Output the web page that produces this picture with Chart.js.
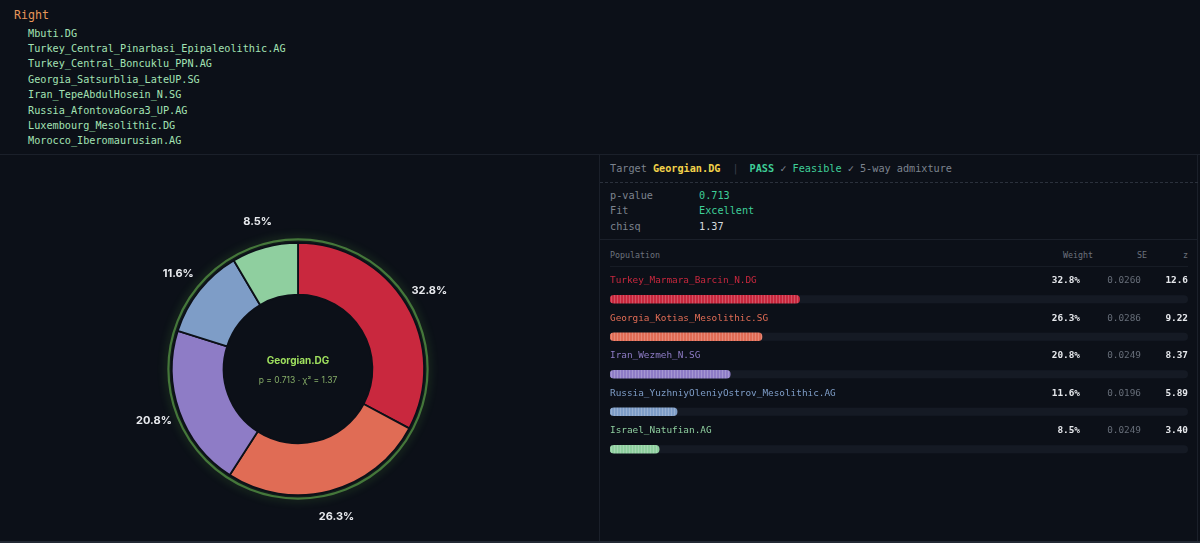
<!DOCTYPE html>
<html>
<head>
<meta charset="utf-8">
<script src="https://cdn.jsdelivr.net/npm/chart.js@4.4.1/dist/chart.umd.min.js"></script>
<style>
  body { margin: 0; background: #0c1018; width: 1200px; height: 543px; overflow: hidden; position: relative;
         font-family: "DejaVu Sans Mono", monospace; }
  .abs { position: absolute; white-space: pre; }
  .line { position: absolute; background: #1b202a; }
  #right-title { left: 14px; top: 7px; font-size: 11.6px; line-height: 16px; color: #e8965a; }
  #right-list { left: 28px; top: 25.5px; font-size: 10.2px; line-height: 15.4px; color: #a3e2b4; }
  .hdr { font-size: 10.2px; line-height: 14px; }
  .muted { color: #7c838e; }
</style>
</head>
<body>
<div id="right-title" class="abs">Right</div>
<div id="right-list" class="abs"></div>

<div class="line" style="left:0;top:154px;width:1200px;height:1px;"></div>
<div class="line" style="left:599px;top:155px;width:1px;height:388px;"></div>
<div class="line" style="left:1197px;top:155px;width:1px;height:388px;"></div>
<div class="line" style="left:0;top:541px;width:1200px;height:2px;background:#222833;"></div>

<div class="abs hdr" style="left:610px;top:162px;"><span class="muted">Target </span><span style="color:#f2d24a;font-weight:bold;">Georgian.DG</span><span style="color:#3a404b;margin:0 11px 0 12px;">|</span><span style="color:#3fcf98;font-weight:bold;">PASS</span><span class="muted"> ✓ </span><span style="color:#3fcf98;">Feasible</span><span class="muted"> ✓ 5-way admixture</span></div>
<div class="abs" style="left:600px;top:182px;width:598px;height:0;border-top:1px dashed #2b313c;"></div>

<div class="abs hdr muted" style="left:610px;top:188.5px;">p-value</div>
<div class="abs hdr" style="left:699px;top:188.5px;color:#3fcf98;">0.713</div>
<div class="abs hdr muted" style="left:610px;top:204px;">Fit</div>
<div class="abs hdr" style="left:699px;top:204px;color:#3fcf98;">Excellent</div>
<div class="abs hdr muted" style="left:610px;top:219.5px;">chisq</div>
<div class="abs hdr" style="left:699px;top:219.5px;color:#d5d9de;">1.37</div>
<div class="line" style="left:600px;top:239px;width:598px;height:1px;"></div>

<div class="abs" style="left:610px;top:249px;font-size:8.3px;line-height:12px;color:#6c737d;">Population</div>
<div class="abs" style="left:1000px;top:249px;width:93px;text-align:right;font-size:8.3px;line-height:12px;color:#6c737d;">Weight</div>
<div class="abs" style="left:1100px;top:249px;width:47px;text-align:right;font-size:8.3px;line-height:12px;color:#6c737d;">SE</div>
<div class="abs" style="left:1150px;top:249px;width:38px;text-align:right;font-size:8.3px;line-height:12px;color:#6c737d;">z</div>
<div class="line" style="left:610px;top:266px;width:578px;height:1px;background:#171c25;"></div>

<canvas id="donut" width="600" height="386" style="position:absolute;left:0;top:155px;"></canvas>
<canvas id="bars" width="598" height="204" style="position:absolute;left:600px;top:268px;"></canvas>

<script>
const rightPops = ['Mbuti.DG', 'Turkey_Central_Pinarbasi_Epipaleolithic.AG', 'Turkey_Central_Boncuklu_PPN.AG',
  'Georgia_Satsurblia_LateUP.SG', 'Iran_TepeAbdulHosein_N.SG', 'Russia_AfontovaGora3_UP.AG',
  'Luxembourg_Mesolithic.DG', 'Morocco_Iberomaurusian.AG'];
const populations = ['Turkey_Marmara_Barcin_N.DG', 'Georgia_Kotias_Mesolithic.SG', 'Iran_Wezmeh_N.SG',
  'Russia_YuzhniyOleniyOstrov_Mesolithic.AG', 'Israel_Natufian.AG'];
const weights = [32.8, 26.3, 20.8, 11.6, 8.5];
const stdErrs = ['0.0260', '0.0286', '0.0249', '0.0196', '0.0249'];
const zScores = ['12.6', '9.22', '8.37', '5.89', '3.40'];
const colors = ['#c9283e', '#e06c55', '#8e7cc6', '#7e9dc7', '#8fcf9f'];
const target = 'Georgian.DG';

document.getElementById('right-list').textContent = rightPops.join('\n');

const BG = '#0c1018';

// donut: outside % labels, glow ring, center text
const donutDeco = {
  id: 'donutDeco',
  beforeDatasetsDraw(chart) {
    const arc = chart.getDatasetMeta(0).data[0];
    const { x, y, outerRadius } = arc.getProps(['x', 'y', 'outerRadius'], true);
    const ctx = chart.ctx;
    ctx.save();
    ctx.beginPath();
    ctx.arc(x, y, outerRadius + 3.5, 0, Math.PI * 2);
    ctx.strokeStyle = '#45773a';
    ctx.lineWidth = 2.2;
    ctx.shadowColor = 'rgba(100, 190, 70, 0.45)';
    ctx.shadowBlur = 10;
    ctx.stroke();
    ctx.restore();
  },
  afterDatasetsDraw(chart) {
    const ctx = chart.ctx;
    const meta = chart.getDatasetMeta(0);
    ctx.save();
    ctx.font = 'bold 11px Inter, sans-serif';
    ctx.fillStyle = '#e8eaee';
    ctx.textAlign = 'center';
    ctx.textBaseline = 'middle';
    let cx, cy;
    meta.data.forEach((arc, i) => {
      const p = arc.getProps(['x', 'y', 'startAngle', 'endAngle', 'outerRadius'], true);
      cx = p.x; cy = p.y;
      const mid = (p.startAngle + p.endAngle) / 2;
      const r = p.outerRadius + 27;
      ctx.fillText(weights[i].toFixed(1) + '%', p.x + Math.cos(mid) * r, p.y + Math.sin(mid) * r);
    });
    ctx.font = 'bold 10px Inter, sans-serif';
    ctx.fillStyle = '#9fe05e';
    ctx.fillText(target, cx, cy - 8);
    ctx.font = '8.5px Inter, sans-serif';
    ctx.fillStyle = '#86ad68';
    ctx.fillText('p = 0.713 · χ² = 1.37', cx, cy + 11);
    ctx.restore();
  }
};

new Chart(document.getElementById('donut'), {
  type: 'doughnut',
  data: {
    labels: populations,
    datasets: [{
      data: weights,
      backgroundColor: colors,
      borderColor: BG,
      borderWidth: 1.8,
      hoverOffset: 0
    }]
  },
  options: {
    responsive: false,
    animation: false,
    cutout: '59%',
    layout: { padding: { top: 87, bottom: 45, left: 0, right: 4 } },
    plugins: { legend: { display: false }, tooltip: { enabled: false } }
  },
  plugins: [donutDeco]
});

// striped fill for the weight bars
function stripes(color) {
  const c = document.createElement('canvas');
  c.width = 3; c.height = 10;
  const g = c.getContext('2d');
  g.fillStyle = color;
  g.fillRect(0, 0, 3, 10);
  g.fillStyle = 'rgba(255,255,255,0.2)';
  g.fillRect(2, 0, 1, 10);
  return g.createPattern(c, 'repeat');
}

const tableDeco = {
  id: 'tableDeco',
  beforeDatasetsDraw(chart) {
    const ctx = chart.ctx;
    const xs = chart.scales.x;
    const x0 = xs.getPixelForValue(0), x1 = xs.getPixelForValue(100);
    ctx.save();
    ctx.fillStyle = '#151a24';
    chart.getDatasetMeta(0).data.forEach(bar => {
      ctx.beginPath();
      ctx.roundRect(x0, bar.y - 4, x1 - x0, 8, 4);
      ctx.fill();
    });
    ctx.restore();
  },
  afterDatasetsDraw(chart) {
    const ctx = chart.ctx;
    const left = chart.chartArea.left, right = chart.chartArea.right;
    ctx.save();
    ctx.textBaseline = 'middle';
    chart.getDatasetMeta(0).data.forEach((bar, i) => {
      const y = bar.y - 18.3;
      ctx.font = '9.4px "DejaVu Sans Mono", monospace';
      ctx.textAlign = 'left';
      ctx.fillStyle = colors[i];
      ctx.fillText(populations[i], left, y);
      ctx.textAlign = 'right';
      ctx.font = 'bold 9.4px "DejaVu Sans Mono", monospace';
      ctx.fillStyle = '#e6e8ec';
      ctx.fillText(weights[i].toFixed(1) + '%', right - 108, y);
      ctx.fillText(zScores[i], right, y);
      ctx.font = '9.4px "DejaVu Sans Mono", monospace';
      ctx.fillStyle = '#666d78';
      ctx.fillText(stdErrs[i], right - 47, y);
    });
    ctx.restore();
  }
};

new Chart(document.getElementById('bars'), {
  type: 'bar',
  data: {
    labels: populations,
    datasets: [{
      data: weights,
      backgroundColor: colors.map(stripes),
      borderRadius: 4,
      borderSkipped: false,
      barThickness: 8
    }]
  },
  options: {
    indexAxis: 'y',
    responsive: false,
    animation: false,
    layout: { padding: { top: 12.5, bottom: 4, left: 10, right: 10 } },
    scales: {
      x: { min: 0, max: 100, display: false },
      y: { display: false }
    },
    plugins: { legend: { display: false }, tooltip: { enabled: false } }
  },
  plugins: [tableDeco]
});
</script>
</body>
</html>
